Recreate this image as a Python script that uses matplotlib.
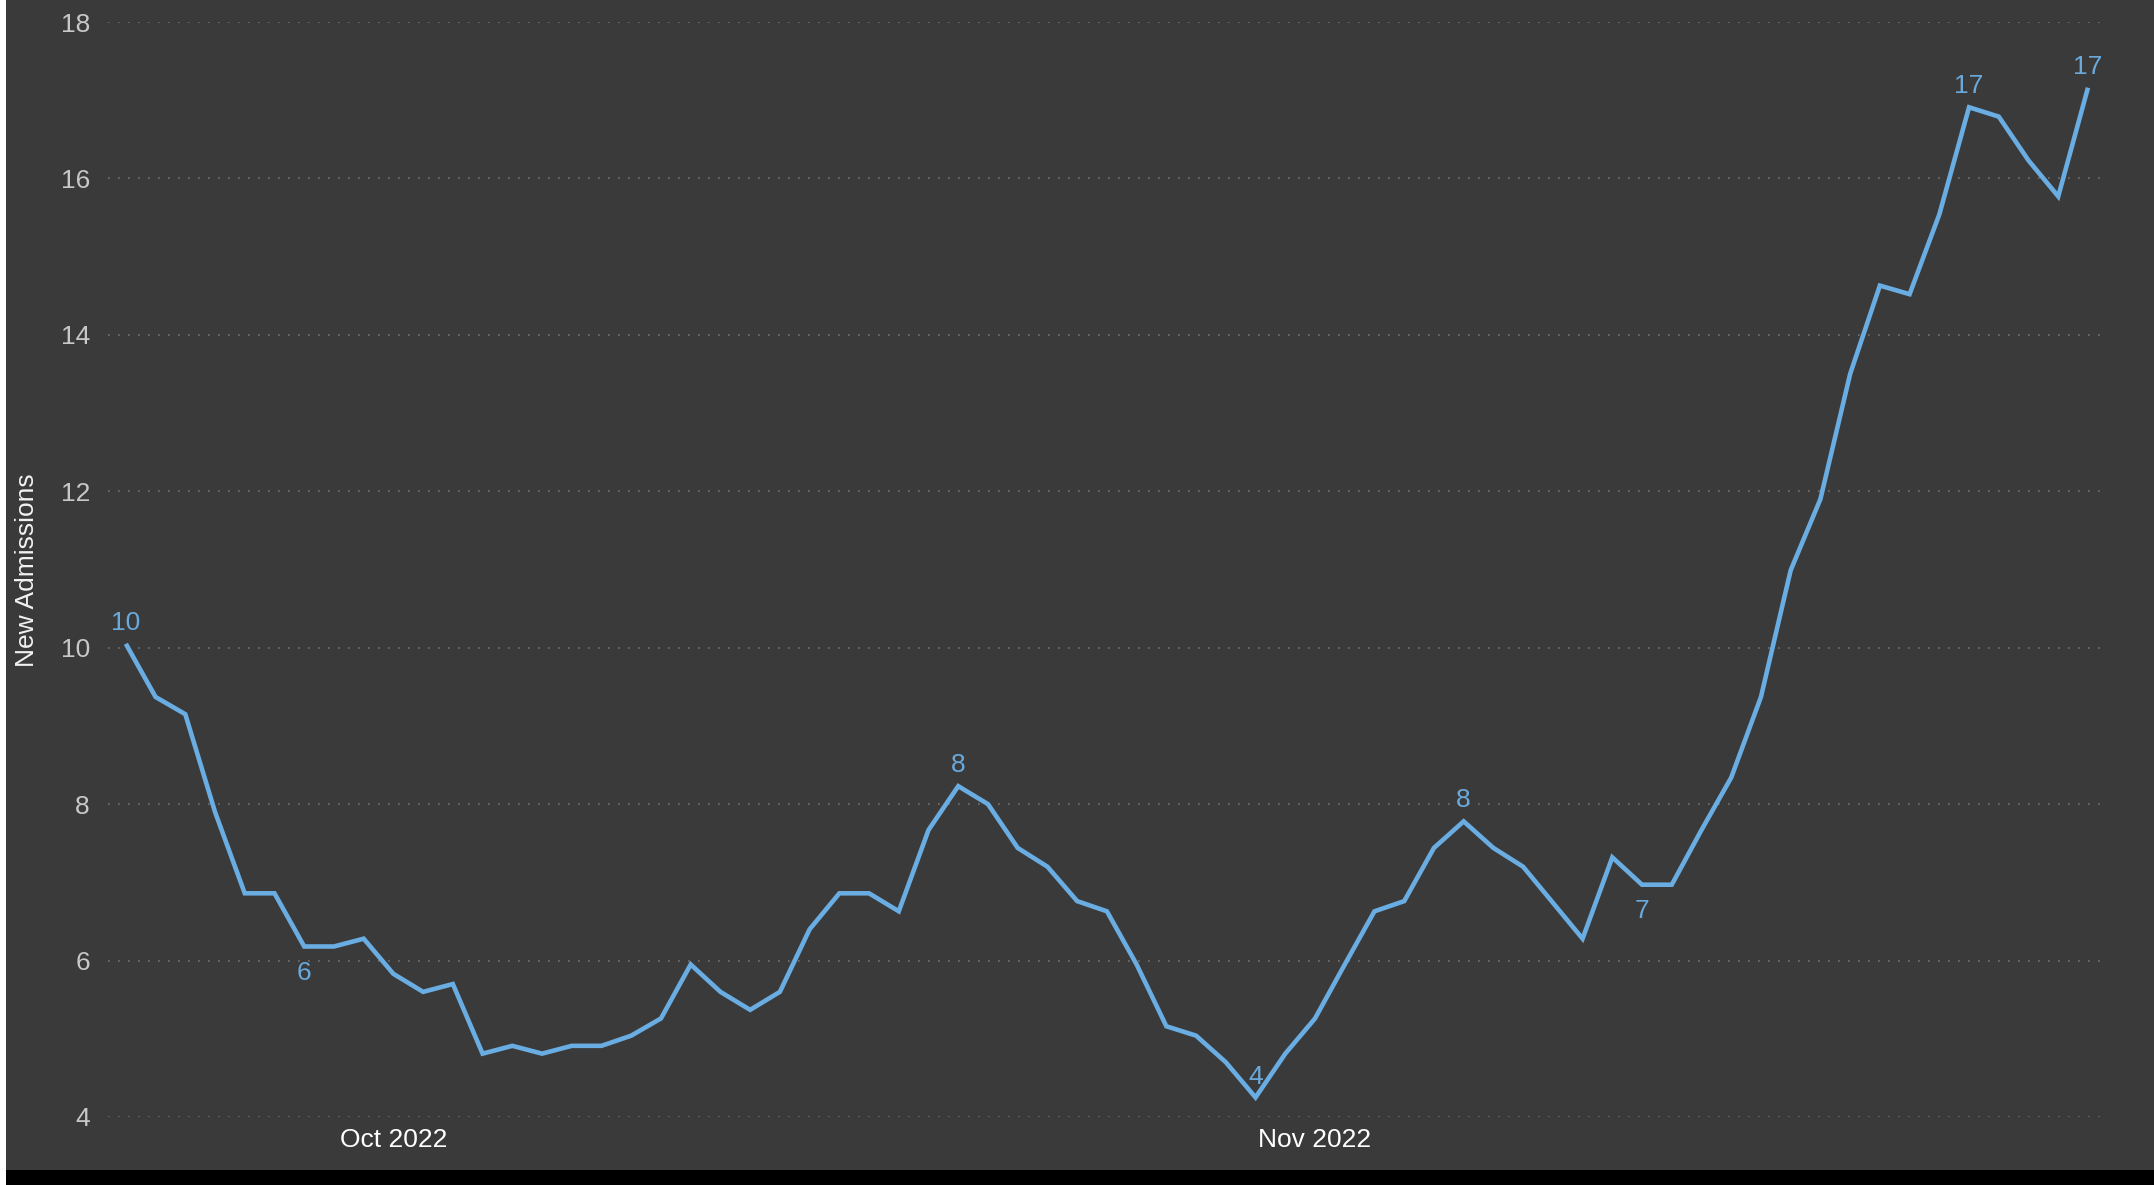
import matplotlib
matplotlib.use("Agg")
import matplotlib.pyplot as plt
import matplotlib.dates as mdates
import pandas as pd
from matplotlib.patches import Rectangle

# ---------------------- 1. data ----------------------
start_date = "2022-09-22"
new_admissions = [
    10.05, 9.37, 9.15, 7.90, 6.86, 6.86, 6.18, 6.18, 6.28, 5.83,
    5.60, 5.70, 4.81, 4.91, 4.81, 4.91, 4.91, 5.04, 5.26, 5.95,
    5.60, 5.37, 5.60, 6.40, 6.86, 6.86, 6.63, 7.67, 8.23, 8.00,
    7.44, 7.20, 6.76, 6.63, 5.95, 5.16, 5.04, 4.70, 4.25, 4.81,
    5.26, 5.95, 6.63, 6.76, 7.44, 7.78, 7.44, 7.20, 6.74, 6.28,
    7.32, 6.97, 6.97, 7.67, 8.34, 9.37, 10.99, 11.90, 13.50, 14.63,
    14.52, 15.54, 16.91, 16.79, 16.23, 15.77, 17.16,
]
dates = pd.date_range(start_date, periods=len(new_admissions), freq="D")

# points that carry a data label, and where the label goes
label_points = [0, 6, 28, 38, 45, 51, 62, 66]
label_below = [False, True, False, False, False, True, False, False]

y_ticks = [4, 6, 8, 10, 12, 14, 16, 18]
x_ticks = ["2022-10-01", "2022-11-01"]
x_tick_labels = ["Oct 2022", "Nov 2022"]

# ---------------------- 2. figure ----------------------
W, H = 2154, 1185
bg = "#3a3a3a"
line_color = "#69ade2"

plt.rcParams["font.family"] = ["Liberation Sans", "DejaVu Sans"]
fig = plt.figure(figsize=(W / 100, H / 100), dpi=100, facecolor="black")
fig.patches.append(Rectangle((6 / W, 15 / H), 1, 1, transform=fig.transFigure,
                             facecolor=bg, edgecolor="none", zorder=-2))
fig.patches.append(Rectangle((0, 0), 6 / W, 1, transform=fig.transFigure,
                             facecolor="white", edgecolor="none", zorder=-1))

# plot area: x 108..2107 px, y=4 at 1117 px, y=18 at 22 px
ax = fig.add_axes([108 / W, (H - 1117) / H, 1999 / W, 1095 / H])
ax.set_facecolor("none")

ax.plot(dates, new_admissions, color=line_color, lw=3.3, solid_joinstyle="miter",
        solid_capstyle="butt", zorder=3)

for i, below in zip(label_points, label_below):
    v = new_admissions[i]
    ax.annotate(f"{v:.0f}", (dates[i], v), xytext=(0, -24 if below else 10),
                textcoords="offset points", ha="center", va="baseline",
                fontsize=19, color="#6aa9dc", zorder=4)

# ---------------------- 3. axes style ----------------------
ax.set_ylim(4, 18)
ax.set_yticks(y_ticks)
ax.set_xlim(mdates.date2num(dates[0]) - 0.6, mdates.date2num(dates[-1]) + 0.64)
ax.set_xticks(pd.to_datetime(x_ticks))
ax.set_xticklabels(x_tick_labels)

ax.grid(axis="y", color="#727272", lw=1.2, linestyle=(0, (1, 5)))
ax.grid(axis="x", visible=False)
for s in ax.spines.values():
    s.set_visible(False)
ax.tick_params(axis="y", length=0, pad=13, labelsize=19, labelcolor="#c8c8c8")
ax.tick_params(axis="x", length=0, pad=8, labelsize=19, labelcolor="white")

fig.text(27 / W, 1 - 570 / H, "New Admissions", rotation=90, ha="center",
         va="center", fontsize=19, color="#f2f2f2")

fig.savefig("out.png", dpi=100, facecolor=fig.get_facecolor())
plt.close(fig)
